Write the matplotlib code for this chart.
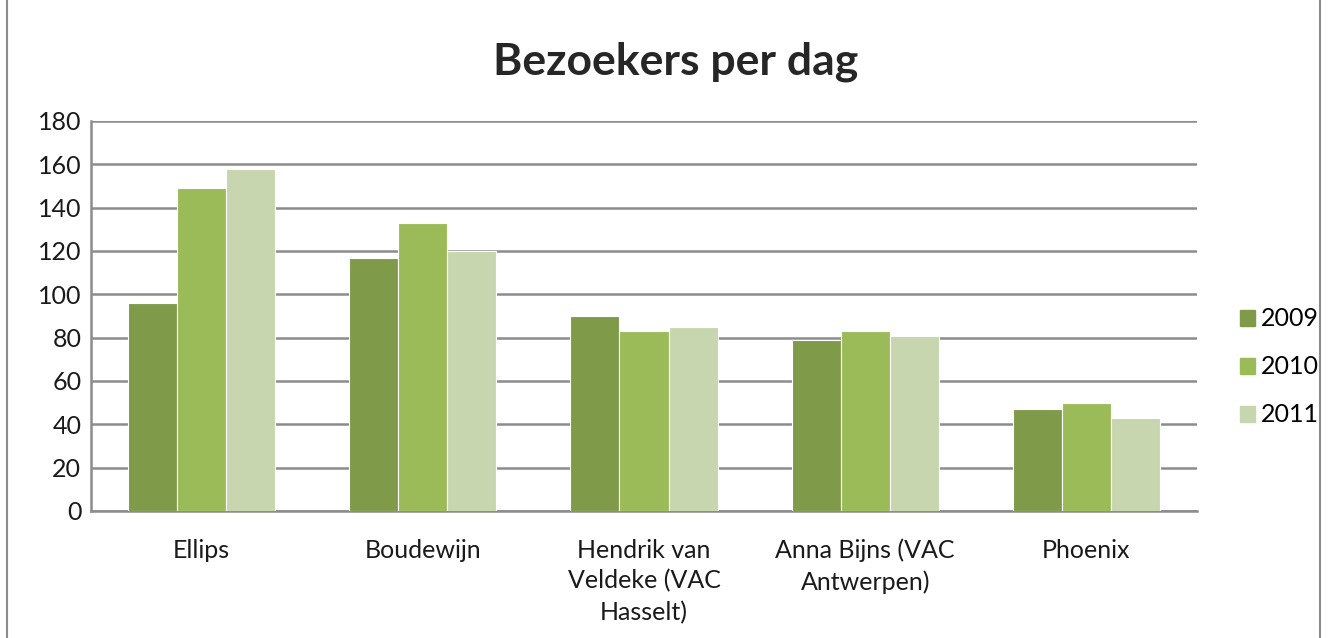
import matplotlib.pyplot as plt
import matplotlib.patches as mpatches
import numpy as np

plt.rcParams['font.family'] = ['Lato', 'DejaVu Sans']

# data
categories = ['Ellips', 'Boudewijn', 'Hendrik van\nVeldeke (VAC\nHasselt)',
              'Anna Bijns (VAC\nAntwerpen)', 'Phoenix']
years = ['2009', '2010', '2011']
v2009 = [96, 117, 90, 79, 47]
v2010 = [149, 133, 83, 83, 50]
v2011 = [158, 120, 85, 81, 43]
colors = ['#7F9A48', '#9BBB59', '#C7D6AE']

fig = plt.figure(figsize=(13.29, 6.38), dpi=100)
ax = fig.add_axes([91 / 1329, 1 - 511 / 638, (1197 - 91) / 1329, (511 - 121) / 638])

x = np.arange(len(categories))
w = 0.222
for i, (vals, c, lab) in enumerate(zip([v2009, v2010, v2011], colors, years)):
    ax.bar(x + (i - 1) * w, vals, w, color=c, edgecolor='white', linewidth=0.8,
           label=lab, zorder=3)

ax.set_xlim(-0.5, len(categories) - 0.5)
ax.set_ylim(0, 180)
ax.set_yticks(range(0, 181, 20))
ax.yaxis.grid(True, color='#8C8C8C', linewidth=1.8, zorder=0)
ax.set_axisbelow(True)
for s in ['top', 'right']:
    ax.spines[s].set_visible(False)
for s in ['left', 'bottom']:
    ax.spines[s].set_color('#8C8C8C')
    ax.spines[s].set_linewidth(1.8)
ax.tick_params(axis='y', length=0, labelsize=18, pad=7, labelcolor='#1a1a1a')
ax.tick_params(axis='x', length=0, labelsize=18, pad=20, labelcolor='#1a1a1a')
ax.set_xticks(x)
ax.set_xticklabels(categories, linespacing=1.4)

fig.suptitle('Bezoekers per dag', x=676 / 1329, y=1 - 62 / 638, va='center',
             fontsize=32, fontweight='bold', color='#262626')

handles = [mpatches.Patch(color=c, label=y) for c, y in zip(colors, years)]
fig.legend(handles=handles, loc='center left', bbox_to_anchor=(1240 / 1329, 1 - 367 / 638),
           frameon=False, fontsize=18, handlelength=0.6, handleheight=0.6,
           handletextpad=0.25, labelspacing=1.0, borderpad=0, borderaxespad=0)

# chart area border
fig.patches.append(mpatches.Rectangle((7 / 1329, -0.01), 1313 / 1329, 1.02,
                                      transform=fig.transFigure, fill=False,
                                      edgecolor='#8C8C8C', linewidth=1.5))

fig.savefig('out.png', dpi=100)
